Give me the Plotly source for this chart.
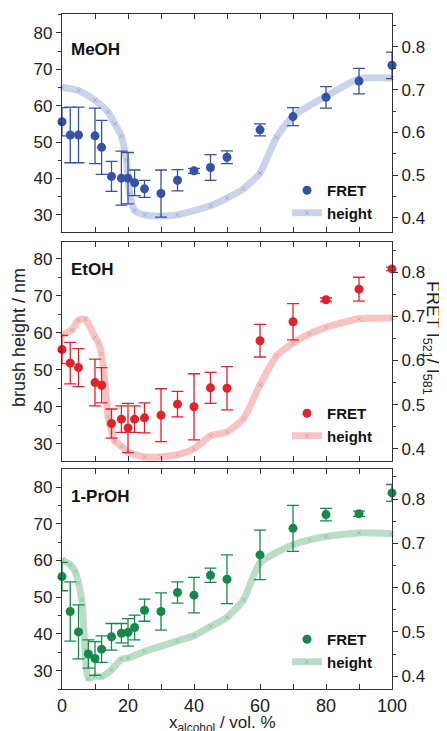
import plotly.graph_objects as go
from plotly.subplots import make_subplots

# ---------------- data ----------------
# FRET (right axis)
meoh_fret_x = [0, 2.5, 5, 10, 12, 15, 18, 20, 22, 25, 30, 35, 40, 45, 50, 60, 70, 80, 90, 100]
meoh_fret_y = [0.625, 0.594, 0.594, 0.592, 0.565, 0.497, 0.493, 0.493, 0.482, 0.468, 0.457, 0.488,
               0.510, 0.518, 0.542, 0.606, 0.637, 0.682, 0.720, 0.757]
meoh_fret_err = [0.033, 0.065, 0.065, 0.065, 0.063, 0.035, 0.063, 0.060, 0.030, 0.020, 0.055, 0.025,
                 0.006, 0.030, 0.015, 0.014, 0.021, 0.025, 0.030, 0.031]

etoh_fret_x = [0, 2.5, 5, 10, 12, 15, 18, 20, 22, 25, 30, 35, 40, 45, 50, 60, 70, 80, 90, 100]
etoh_fret_y = [0.625, 0.594, 0.584, 0.550, 0.544, 0.457, 0.467, 0.447, 0.467, 0.470, 0.476, 0.501,
               0.495, 0.538, 0.537, 0.645, 0.688, 0.738, 0.762, 0.808]
etoh_fret_err = [0.032, 0.047, 0.043, 0.053, 0.040, 0.033, 0.030, 0.056, 0.030, 0.034, 0.060, 0.029,
                 0.075, 0.035, 0.049, 0.037, 0.041, 0.004, 0.027, 0.004]

proh_fret_x = [0, 2.5, 5, 8, 10, 12, 15, 18, 20, 22, 25, 30, 35, 40, 45, 50, 60, 70, 80, 90, 100]
proh_fret_y = [0.625, 0.546, 0.500, 0.450, 0.440, 0.461, 0.489, 0.497, 0.499, 0.510, 0.549, 0.546,
               0.589, 0.583, 0.628, 0.619, 0.674, 0.734, 0.765, 0.767, 0.814]
proh_fret_err = [0.032, 0.067, 0.061, 0.032, 0.038, 0.030, 0.030, 0.022, 0.031, 0.028, 0.025, 0.042,
                 0.024, 0.040, 0.016, 0.055, 0.056, 0.052, 0.014, 0.006, 0.019]

# brush height (left axis)
meoh_h_x = [0, 5, 10, 14, 16, 18, 19.5, 20.5, 22, 25, 30, 35, 45, 50, 55, 60, 65, 70, 80, 90, 100]
meoh_h_y = [65.1, 64.2, 61.5, 58.2, 55.0, 51.6, 45.0, 36.0, 31.2, 30.0, 29.7, 30.0, 32.5, 34.6,
            37.2, 41.5, 51.3, 57.1, 62.6, 67.4, 67.6]

etoh_h_x = [0, 3, 5, 7, 10, 11, 12, 13, 14, 16, 18, 20, 25, 30, 35, 40, 45, 50, 55, 60, 65, 70,
            75, 80, 90, 100]
etoh_h_y = [59.4, 60.8, 63.5, 63.7, 58.8, 57.4, 54.3, 46.8, 37.2, 30.7, 29.3, 27.7, 26.4, 26.4,
            27.0, 28.6, 32.1, 33.2, 36.8, 45.9, 53.7, 57.2, 59.7, 61.5, 63.8, 64.0]

proh_h_x = [0, 2.5, 4, 5, 6, 7, 8, 10, 12, 15, 18, 20, 25, 35, 40, 45, 50, 55, 60, 70, 75, 80, 90, 100]
proh_h_y = [60.2, 58.8, 57.0, 53.8, 49.3, 35.6, 27.9, 28.5, 28.4, 30.2, 33.1, 33.4, 35.2, 38.1,
            39.5, 42.0, 44.5, 49.3, 59.3, 64.3, 65.6, 66.5, 67.5, 67.3]

panel_names = ["MeOH", "EtOH", "1-PrOH"]

# ---------------- styling ----------------
dark = ["#3452a6", "#e0222b", "#14894a"]
light = ["#c9d4eb", "#f8c3c3", "#b9ddc6"]
mid = ["#9aaad6", "#f09a9a", "#86c49c"]

fret_x = [meoh_fret_x, etoh_fret_x, proh_fret_x]
fret_y = [meoh_fret_y, etoh_fret_y, proh_fret_y]
fret_e = [meoh_fret_err, etoh_fret_err, proh_fret_err]
h_x = [meoh_h_x, etoh_h_x, proh_h_x]
h_y = [meoh_h_y, etoh_h_y, proh_h_y]

# screen geometry (page body has an 8px margin)
OFF = 8
SW, SH = 447, 731
PL, PR, PT, PB = 62, 392, 14, 689          # plot area in screen px
W, H = SW - OFF, SH - OFF
ML, MR, MT, MB = PL - OFF, SW - PR, PT - OFF, SH - PB
plot_h = PB - PT
plot_w = PR - PL

def py(px):
    return (PB - px) / plot_h

def pxx(px):
    return (px - PL) / plot_w

panel_px = [(14, 232), (242, 461), (469, 689)]
left_ranges = [[25.3, 85.2], [25.3, 84.6], [25.0, 84.9]]
right_ranges = [[0.367, 0.877], [0.372, 0.869], [0.371, 0.868]]
label_off = [35, 27, 27]
legend_bottom_px = [229, 452, 678]

FONT = "Liberation Sans, Arial, Helvetica, sans-serif"
AX = "#333333"

fig = make_subplots(rows=3, cols=1, specs=[[{"secondary_y": True}]] * 3)

for i in range(3):
    leg = "legend" if i == 0 else f"legend{i + 1}"
    fig.add_trace(go.Scatter(
        x=h_x[i], y=h_y[i], mode="lines+markers", name="height",
        line=dict(color=light[i], width=7, shape="spline", smoothing=0.6),
        marker=dict(symbol="x-thin", size=4, line=dict(color=mid[i], width=1), color=mid[i]),
        legend=leg, cliponaxis=False,
    ), row=i + 1, col=1, secondary_y=False)
    fig.add_trace(go.Scatter(
        x=fret_x[i], y=fret_y[i], mode="markers", name="FRET",
        marker=dict(color=dark[i], size=9),
        error_y=dict(type="data", array=fret_e[i], color=dark[i], thickness=1.3, width=6),
        legend=leg, cliponaxis=False,
    ), row=i + 1, col=1, secondary_y=True)

fig.update_layout(
    width=W, height=H, margin=dict(l=ML, r=MR, t=MT, b=MB),
    plot_bgcolor="white", paper_bgcolor="white",
    font=dict(family=FONT, size=17, color="#222222"),
    showlegend=True,
)

for i in range(3):
    top, bot = panel_px[i]
    dom = [py(bot), py(top)]
    xa = "xaxis" if i == 0 else f"xaxis{i + 1}"
    yl = "yaxis" if i == 0 else f"yaxis{2 * i + 1}"
    yr = f"yaxis{2 * i + 2}"
    fig.layout[xa].update(
        range=[0, 100], domain=[0, 1], showline=True, linecolor=AX, linewidth=1.3,
        mirror="ticks", ticks="inside", ticklen=5, tickwidth=1, tickcolor=AX,
        dtick=20, tick0=0, showgrid=False, zeroline=False,
        minor=dict(dtick=10, ticks="inside", ticklen=5, tickcolor=AX, showgrid=False),
        showticklabels=(i == 2), tickfont=dict(size=18),
    )
    fig.layout[yl].update(
        range=left_ranges[i], domain=dom, showline=True, linecolor=AX, linewidth=1.3,
        ticks="outside", ticklen=5, tickcolor=AX, dtick=10, tick0=0,
        minor=dict(dtick=5, ticks="outside", ticklen=3, tickcolor=AX, showgrid=False),
        showgrid=False, zeroline=False, tickfont=dict(size=17),
    )
    fig.layout[yr].update(
        range=right_ranges[i], showline=True, linecolor=AX, linewidth=1.3,
        ticks="outside", ticklen=5, tickcolor=AX, dtick=0.1, tick0=0,
        minor=dict(dtick=0.05, ticks="outside", ticklen=3, tickcolor=AX, showgrid=False),
        showgrid=False, zeroline=False, tickfont=dict(size=17), tickformat=".1f",
    )
    leg = "legend" if i == 0 else f"legend{i + 1}"
    fig.layout[leg] = dict(
        x=pxx(287), xanchor="left",
        y=py(legend_bottom_px[i]), yanchor="bottom",
        bgcolor="rgba(0,0,0,0)", borderwidth=0,
        font=dict(family=FONT, size=15, color="#111111", weight="bold"),
        traceorder="reversed", itemwidth=30, tracegroupgap=0,
    )
    fig.add_annotation(
        text=f"<b>{panel_names[i]}</b>", xref=f"{xa.replace('axis', '')} domain",
        yref=f"{yl.replace('axis', '')} domain", x=0.02, y=1 - label_off[i] / (bot - top),
        xanchor="left", yanchor="middle", showarrow=False,
        font=dict(family=FONT, size=17, color="#111111"),
    )

# axis titles
fig.add_annotation(text="brush height / nm", xref="paper", yref="paper",
                   x=pxx(19), y=py(338), xanchor="center",
                   yanchor="middle", textangle=-90, showarrow=False,
                   font=dict(family=FONT, size=18, color="#222222"))
fig.add_annotation(text="FRET I<sub>521</sub>/ I<sub>581</sub>",
                   xref="paper", yref="paper",
                   x=pxx(432), y=py(338), xanchor="center",
                   yanchor="middle", textangle=90, showarrow=False,
                   font=dict(family=FONT, size=18, color="#222222"))
fig.add_annotation(text="x<sub>alcohol</sub> / vol. %", xref="paper", yref="paper",
                   x=pxx(222), y=py(724), xanchor="center",
                   yanchor="middle", showarrow=False,
                   font=dict(family=FONT, size=17, color="#222222"))

fig.write_html("out.html")
